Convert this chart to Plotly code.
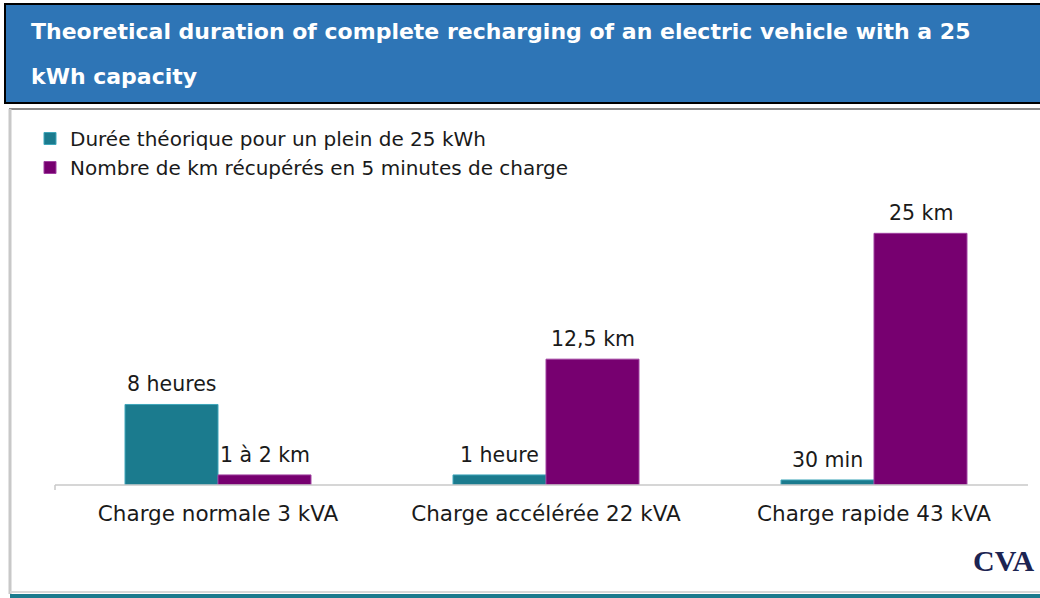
import plotly.graph_objects as go

categories = ["Charge normale 3 kVA", "Charge accélérée 22 kVA", "Charge rapide 43 kVA"]
series_names = ["Durée théorique pour un plein de 25 kWh",
                "Nombre de km récupérés en 5 minutes de charge"]
duration_values = [8, 1, 0.5]
duration_labels = ["8 heures", "1 heure", "30 min"]
km_values = [1, 12.5, 25]
km_labels = ["1 à 2 km", "12,5 km", "25 km"]
title_lines = ["Theoretical duration of complete recharging of an electric vehicle with a 25",
               "kWh capacity"]

W, H = 1040, 598
ML, MR, MT, MB = 54, 2, 183, 113
PW, PH = W - ML - MR, H - MT - MB


def px(x):
    return (x - ML) / PW


def py(y):
    return 1 - (y - MT) / PH


TEAL = "#1B7B8E"
PURPLE = "#770070"
FONT = "DejaVu Sans, Arial, sans-serif"
BAR_HALF = 46.5  # half bar width in px, used to place data labels over each bar

fig = go.Figure()
fig.add_trace(go.Bar(
    x=categories, y=duration_values, name=series_names[0], legendgroup="a",
    marker=dict(color=TEAL, line=dict(color="#3FA6BA", width=1)),
))
fig.add_trace(go.Bar(
    x=categories, y=km_values, name=series_names[1], legendgroup="b",
    marker=dict(color=PURPLE, line=dict(color="#A040A0", width=1)),
))

shapes = [
    # title bar
    dict(type="rect", xref="paper", yref="paper", x0=px(5), x1=px(1045), y0=py(4), y1=py(103),
         fillcolor="#2E75B6", line=dict(color="#000000", width=2), layer="below"),
    # panel top border
    dict(type="line", xref="paper", yref="paper", x0=px(9), x1=px(1040), y0=py(109), y1=py(109),
         line=dict(color="#8a8a8a", width=2)),
    # panel left border
    dict(type="line", xref="paper", yref="paper", x0=px(10), x1=px(10), y0=py(109), y1=py(594),
         line=dict(color="#c8c8c8", width=3)),
    # bottom teal line
    dict(type="line", xref="paper", yref="paper", x0=px(10), x1=px(1040), y0=py(596), y1=py(596),
         line=dict(color="#1B7B8E", width=4)),
    dict(type="line", xref="paper", yref="paper", x0=px(10), x1=px(1040), y0=py(592), y1=py(592),
         line=dict(color="#d8d8d8", width=2)),
    # category axis line
    dict(type="line", xref="paper", yref="paper", x0=px(55), x1=px(1028), y0=0, y1=0,
         line=dict(color="#c8c8c8", width=1.5)),
    dict(type="line", xref="paper", yref="paper", x0=px(55), x1=px(55), y0=0, y1=py(490),
         line=dict(color="#c8c8c8", width=1.5)),
]

annotations = [
    dict(text=f"<b>{title_lines[0]}</b>", xref="paper", yref="paper", x=px(29), y=py(31),
         xanchor="left", yanchor="middle", showarrow=False,
         font=dict(size=22, color="white", family=FONT)),
    dict(text=f"<b>{title_lines[1]}</b>", xref="paper", yref="paper", x=px(29), y=py(76),
         xanchor="left", yanchor="middle", showarrow=False,
         font=dict(size=22, color="white", family=FONT)),
    dict(text="<b>CVA</b>", xref="paper", yref="paper", x=px(1036), y=py(560),
         xanchor="right", yanchor="middle", showarrow=False,
         font=dict(size=30, color="#1c2452", family="Liberation Serif, serif")),
]

# data labels above each bar, taken from the data arrays
for cat, val, lab in zip(categories, duration_values, duration_labels):
    annotations.append(dict(text=lab, x=cat, y=val, xref="x", yref="y", xshift=-BAR_HALF,
                            yshift=6, xanchor="center", yanchor="bottom", showarrow=False,
                            font=dict(size=20.5, color="#1a1a1a", family=FONT)))
for cat, val, lab in zip(categories, km_values, km_labels):
    annotations.append(dict(text=lab, x=cat, y=val, xref="x", yref="y", xshift=BAR_HALF,
                            yshift=6, xanchor="center", yanchor="bottom", showarrow=False,
                            font=dict(size=20.5, color="#1a1a1a", family=FONT)))

fig.update_layout(
    width=W, height=H,
    margin=dict(l=ML, r=MR, t=MT, b=MB, pad=0, autoexpand=False),
    paper_bgcolor="white", plot_bgcolor="white",
    barmode="group", bargap=0.433, bargroupgap=0,
    shapes=shapes, annotations=annotations,
    showlegend=True,
    legend=dict(xref="paper", yref="paper", x=px(30), y=py(119),
                xanchor="left", yanchor="top", tracegroupgap=16,
                font=dict(size=20, color="#1a1a1a", family=FONT),
                bgcolor="rgba(0,0,0,0)", itemwidth=30, traceorder="normal"),
    font=dict(family=FONT, color="#1a1a1a"),
    xaxis=dict(showline=False, showgrid=False, ticks="", zeroline=False,
               tickfont=dict(size=21.5, color="#1a1a1a", family=FONT), tickangle=0,
               ticklabelstandoff=13, range=[-0.5, 2.5]),
    yaxis=dict(visible=False, range=[0, 30], showgrid=False, zeroline=False),
)

fig.write_html("out.html", config={"displayModeBar": False},
               post_script="document.body.style.margin='0';")
